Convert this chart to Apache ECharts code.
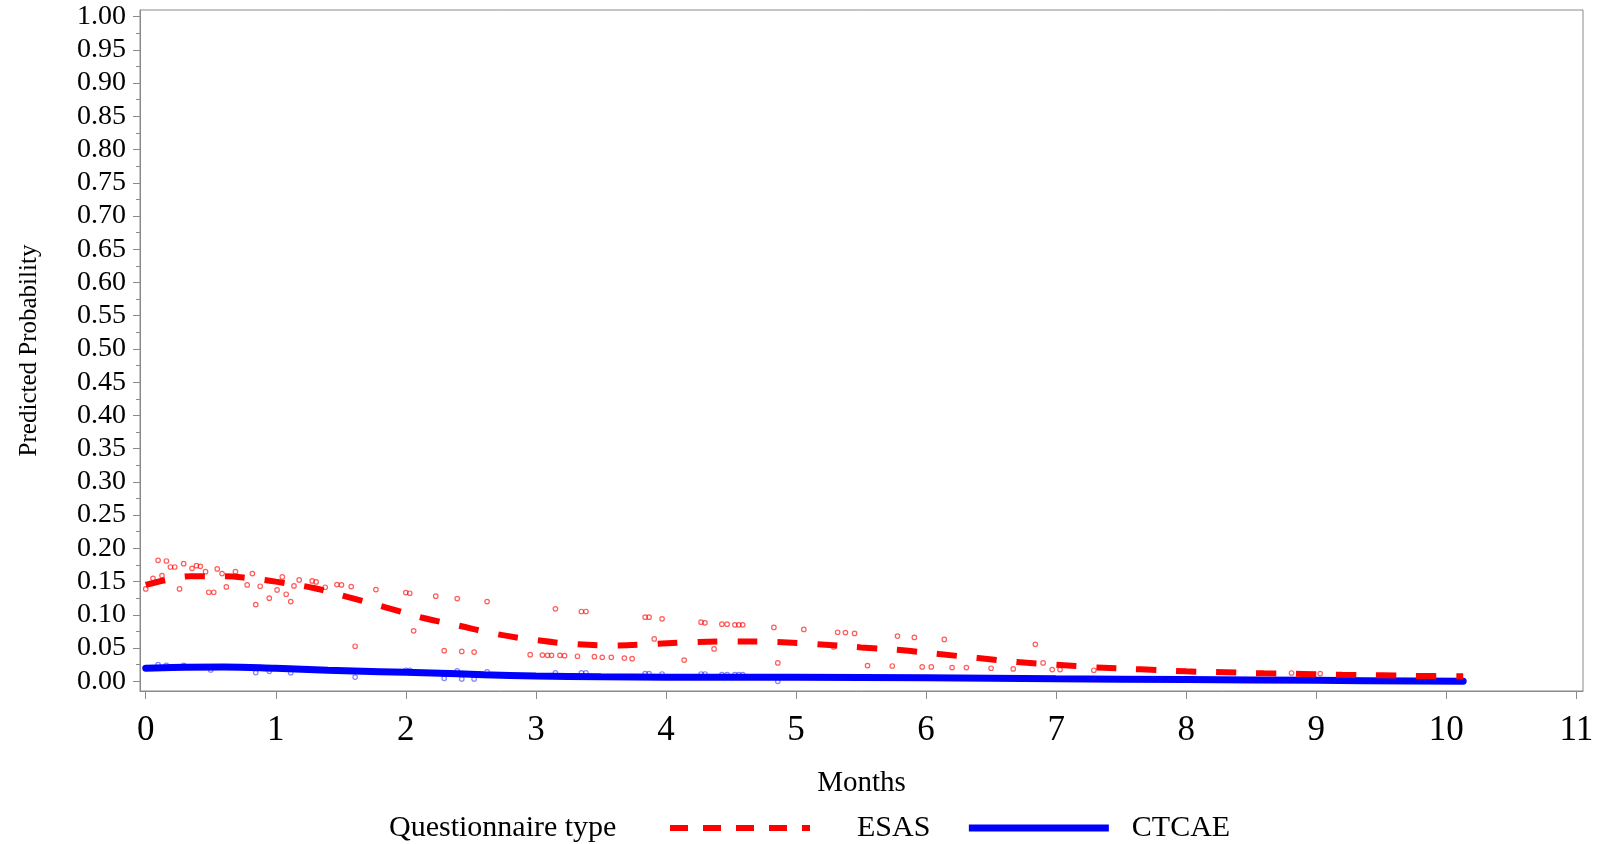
<!DOCTYPE html>
<html>
<head>
<meta charset="utf-8">
<script src="https://cdn.jsdelivr.net/npm/echarts@6/dist/echarts.min.js"></script>
<style>
html, body { margin: 0; padding: 0; background: #fff; }
#chart { width: 1603px; height: 844px; }
</style>
</head>
<body>
<div id="chart"></div>
<script>
// fitted curves (months, predicted probability)
var esasMonths = [0, 0.15, 0.35, 0.6, 0.8, 1.0, 1.3, 1.55, 1.85, 2.12, 2.4, 2.7, 3.0, 3.3, 3.6, 3.9, 4.2, 4.5, 4.85, 5.15, 5.5, 5.8, 6.1, 6.4, 6.7, 7.0, 7.3, 7.65, 8.0, 8.3, 8.6, 8.9, 9.2, 9.5, 9.8, 10.13];
var esasFit = [0.145, 0.152, 0.158, 0.158, 0.155, 0.150, 0.140, 0.127, 0.111, 0.096, 0.084, 0.071, 0.062, 0.056, 0.054, 0.056, 0.059, 0.060, 0.059, 0.056, 0.051, 0.047, 0.041, 0.035, 0.029, 0.025, 0.021, 0.018, 0.015, 0.0135, 0.012, 0.011, 0.0098, 0.009, 0.008, 0.0075];

var ctcaeMonths = [0, 0.3, 0.6, 1.0, 1.4, 1.8, 2.2, 2.6, 3.0, 3.5, 4.0, 5.0, 6.0, 7.0, 8.0, 9.0, 10.13];
var ctcaeFit = [0.0196, 0.021, 0.0215, 0.0195, 0.0166, 0.0145, 0.0125, 0.010, 0.008, 0.0068, 0.0062, 0.006, 0.0052, 0.0038, 0.0026, 0.0014, 0.0002];

// observed points
var esasObsMonths = [0.0, 0.056, 0.095, 0.125, 0.159, 0.19, 0.223, 0.26, 0.292, 0.356, 0.39, 0.42, 0.46, 0.485, 0.523, 0.55, 0.587, 0.62, 0.69, 0.78, 0.82, 0.846, 0.88, 0.95, 1.01, 1.05, 1.08, 1.115, 1.14, 1.18, 1.28, 1.31, 1.38, 1.47, 1.505, 1.58, 1.61, 1.77, 2.0, 2.03, 2.06, 2.23, 2.295, 2.395, 2.43, 2.525, 2.625, 2.956, 3.05, 3.09, 3.12, 3.15, 3.185, 3.22, 3.32, 3.35, 3.385, 3.45, 3.51, 3.58, 3.68, 3.74, 3.84, 3.87, 3.91, 3.97, 4.14, 4.27, 4.30, 4.37, 4.43, 4.47, 4.53, 4.56, 4.59, 4.83, 4.86, 5.06, 5.29, 5.32, 5.38, 5.45, 5.55, 5.74, 5.78, 5.91, 5.97, 6.04, 6.14, 6.2, 6.31, 6.5, 6.67, 6.84, 6.9, 6.97, 7.03, 7.29, 8.81, 9.03];
var esasObsProb = [0.139, 0.155, 0.182, 0.159, 0.181, 0.172, 0.172, 0.139, 0.177, 0.170, 0.174, 0.173, 0.165, 0.134, 0.134, 0.169, 0.162, 0.142, 0.165, 0.145, 0.162, 0.1155, 0.143, 0.125, 0.1375, 0.157, 0.131, 0.12, 0.1435, 0.1525, 0.151, 0.1495, 0.1415, 0.1455, 0.145, 0.1425, 0.0527, 0.138, 0.1335, 0.1325, 0.076, 0.128, 0.046, 0.1245, 0.045, 0.044, 0.12, 0.040, 0.0395, 0.039, 0.039, 0.109, 0.039, 0.0385, 0.0377, 0.105, 0.105, 0.037, 0.036, 0.036, 0.035, 0.034, 0.0964, 0.0964, 0.0637, 0.094, 0.032, 0.089, 0.088, 0.0487, 0.086, 0.086, 0.085, 0.085, 0.085, 0.081, 0.0276, 0.078, 0.0517, 0.0738, 0.0733, 0.072, 0.0236, 0.023, 0.068, 0.066, 0.0216, 0.0216, 0.063, 0.0206, 0.0206, 0.0196, 0.0186, 0.0557, 0.0276, 0.0176, 0.0176, 0.0166, 0.0125, 0.0116];

var ctcaeObsMonths = [0.095, 0.159, 0.292, 0.5, 0.846, 0.95, 1.115, 1.61, 2.0, 2.03, 2.295, 2.395, 2.43, 2.525, 2.625, 3.15, 3.35, 3.385, 3.84, 3.87, 3.97, 4.27, 4.30, 4.43, 4.47, 4.53, 4.56, 4.59, 4.86];
var ctcaeObsProb = [0.025, 0.024, 0.024, 0.017, 0.0131, 0.015, 0.013, 0.0063, 0.0166, 0.0166, 0.0045, 0.0156, 0.0035, 0.0035, 0.0141, 0.0126, 0.0126, 0.0126, 0.0115, 0.0115, 0.011, 0.011, 0.011, 0.010, 0.010, 0.010, 0.010, 0.010, 0.0];

// axis ticks
var xTicks = [0, 1, 2, 3, 4, 5, 6, 7, 8, 9, 10, 11];
var yTicks = [0, 0.05, 0.1, 0.15, 0.2, 0.25, 0.3, 0.35, 0.4, 0.45, 0.5, 0.55, 0.6, 0.65, 0.7, 0.75, 0.8, 0.85, 0.9, 0.95, 1];
var yMinorTicks = yTicks.slice(1).map(function (v) { return v - 0.025; });

function pairs(xs, ys) {
    return xs.map(function (x, i) { return [x, ys[i]]; });
}

var serif = '"Liberation Serif", "Times New Roman", serif';
var frameColor = '#8a8a8a';

var chart = echarts.init(document.getElementById('chart'));

var option = {
    animation: false,
    backgroundColor: '#fff',
    title: {
        text: 'Questionnaire type',
        left: 389,
        top: 813,
        padding: 0,
        textStyle: { fontFamily: serif, fontSize: 30, fontWeight: 'normal', color: '#000' }
    },
    legend: {
        data: [
            { name: 'ESAS', textStyle: { padding: [0, 0, 0, 42] }, lineStyle: { width: 6, type: [18, 15] } },
            { name: 'CTCAE', textStyle: { padding: [0, 0, 0, 18] }, lineStyle: { width: 7, cap: 'butt' } }
        ],
        left: 667,
        top: 813,
        padding: 0,
        itemWidth: 140,
        itemHeight: 8,
        itemGap: 35,
        itemStyle: { opacity: 0 },
        textStyle: { fontFamily: serif, fontSize: 30, color: '#000' }
    },
    grid: {
        left: 140,
        right: 20,
        top: 10,
        bottom: 153,
        show: true,
        borderColor: frameColor,
        borderWidth: 1,
        outerBoundsMode: 'none'
    },
    xAxis: {
        type: 'value',
        min: -0.044,
        max: 11.051,
        name: 'Months',
        nameLocation: 'middle',
        nameGap: 78,
        nameTextStyle: { fontFamily: serif, fontSize: 29, color: '#000' },
        axisLine: { onZero: false, lineStyle: { color: frameColor } },
        axisTick: { customValues: xTicks, length: 8, lineStyle: { color: frameColor } },
        axisLabel: { customValues: xTicks, margin: 22, fontFamily: serif, fontSize: 35, color: '#000' },
        splitLine: { show: false }
    },
    yAxis: [
        {
            type: 'value',
            position: 'left',
            min: -0.0146,
            max: 1.010,
            name: 'Predicted Probability',
            nameLocation: 'middle',
            nameGap: 98,
            nameTextStyle: { fontFamily: serif, fontSize: 25, color: '#000' },
            axisLine: { show: true, onZero: false, lineStyle: { color: frameColor } },
            axisTick: { show: true, customValues: yTicks, length: 7, lineStyle: { color: frameColor } },
            axisLabel: {
                customValues: yTicks,
                margin: 14,
                fontFamily: serif,
                fontSize: 28,
                color: '#000',
                formatter: function (v) { return v.toFixed(2); }
            },
            splitLine: { show: false }
        },
        {
            type: 'value',
            position: 'left',
            min: -0.0146,
            max: 1.010,
            axisLine: { show: false, onZero: false },
            axisTick: { show: true, customValues: yMinorTicks, length: 4, lineStyle: { color: frameColor } },
            axisLabel: { show: false },
            splitLine: { show: false }
        }
    ],
    series: [
        {
            name: 'ESAS observed',
            type: 'scatter',
            data: pairs(esasObsMonths, esasObsProb),
            symbol: 'circle',
            symbolSize: 4.5,
            itemStyle: { color: 'transparent', borderColor: 'rgba(255,0,0,0.8)', borderWidth: 1.2 },
            z: 1
        },
        {
            name: 'CTCAE observed',
            type: 'scatter',
            data: pairs(ctcaeObsMonths, ctcaeObsProb),
            symbol: 'circle',
            symbolSize: 4.5,
            itemStyle: { color: 'transparent', borderColor: 'rgba(0,0,255,0.6)', borderWidth: 1.2 },
            z: 1
        },
        {
            name: 'ESAS',
            type: 'line',
            data: pairs(esasMonths, esasFit),
            smooth: 0.4,
            symbol: 'none',
            color: '#ff0000',
            lineStyle: { color: '#ff0000', width: 6, type: [20, 20], cap: 'butt' },
            z: 3
        },
        {
            name: 'CTCAE',
            type: 'line',
            data: pairs(ctcaeMonths, ctcaeFit),
            smooth: 0.4,
            symbol: 'none',
            color: '#0000ff',
            lineStyle: { color: '#0000ff', width: 7, cap: 'round' },
            z: 2
        }
    ]
};

chart.setOption(option);
</script>
</body>
</html>
